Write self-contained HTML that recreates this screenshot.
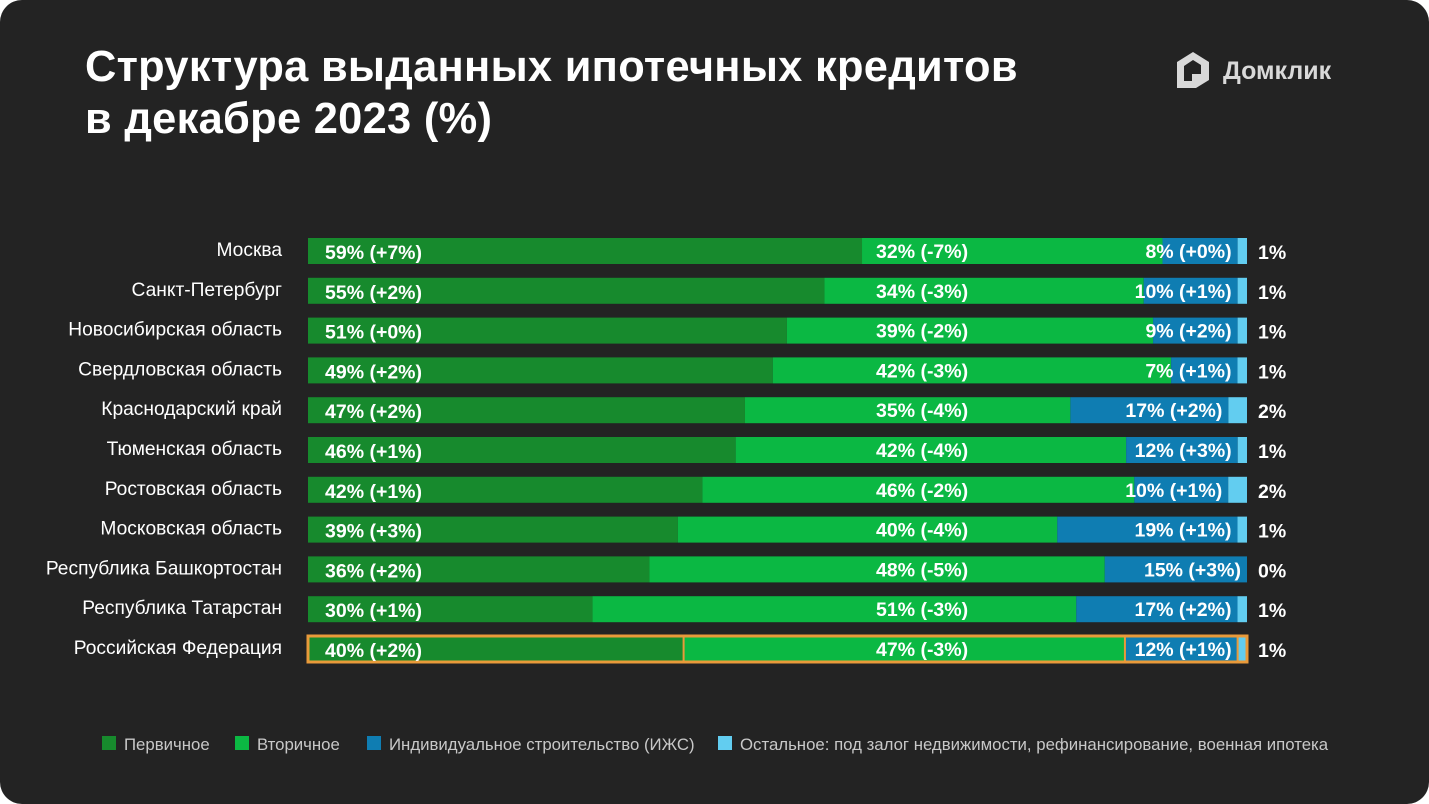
<!DOCTYPE html>
<html><head><meta charset="utf-8">
<style>
html,body{margin:0;padding:0;background:#fff;}
#card{position:absolute;left:0;top:0;width:1429px;height:804px;background:#232323;border-radius:22px;overflow:hidden;font-family:"Liberation Sans","DejaVu Sans",sans-serif;}
#title{position:absolute;left:85px;top:41px;color:#fff;font-size:43.4px;font-weight:bold;line-height:52px;margin:0;letter-spacing:0.3px;}
#logo{position:absolute;left:1174px;top:50px;color:#d9d9d9;font-size:25px;font-weight:bold;}
svg{position:absolute;left:0;top:0;}
</style></head><body>
<div id="card">
<h1 id="title">Структура выданных ипотечных кредитов<br>в декабре 2023 (%)</h1>
<div id="logo">
<svg width="38" height="40" viewBox="0 0 38 40" style="position:relative;vertical-align:middle;"><path d="M19 2 L35 12 L35 30 L22 38 L3 38 L3 12 Z M10 16 L10 31 L18 31 L18 24 L27 24 L27 15 L19 10 Z" fill="#d9d9d9" fill-rule="evenodd"/></svg>
<span style="position:relative;top:2px;left:4px;">Домклик</span></div>
<svg id="chart" width="1429" height="804"></svg>
</div>
<script>
const categories=["Москва","Санкт-Петербург","Новосибирская область","Свердловская область","Краснодарский край","Тюменская область","Ростовская область","Московская область","Республика Башкортостан","Республика Татарстан","Российская Федерация"];
const primary=[59,55,51,49,47,46,42,39,36,30,40];
const secondary=[32,34,39,42,35,42,46,40,48,51,47];
const izhs=[8,10,9,7,17,12,10,19,15,17,12];
const other=[1,1,1,1,2,1,2,1,0,1,1];
const primaryChg=["+7%","+2%","+0%","+2%","+2%","+1%","+1%","+3%","+2%","+1%","+2%"];
const secondaryChg=["-7%","-3%","-2%","-3%","-4%","-4%","-2%","-4%","-5%","-3%","-3%"];
const izhsChg=["+0%","+1%","+2%","+1%","+2%","+3%","+1%","+1%","+3%","+2%","+1%"];
const legendLabels=["Первичное","Вторичное","Индивидуальное строительство (ИЖС)","Остальное: под залог недвижимости, рефинансирование, военная ипотека"];
const colors=["#178a2d","#0bb843","#0f7db2","#62cdf0"];

const svg=document.getElementById('chart');
const NS="http://www.w3.org/2000/svg";
const X0=308,W=939,Y0=251,STEP=39.8,H=26;
function yPos(i){return Y0+i*STEP;}
function mk(tag,attrs){const e=document.createElementNS(NS,tag);for(const k in attrs)e.setAttribute(k,attrs[k]);svg.appendChild(e);return e;}
function txt(x,y,s,opts){const t=mk('text',Object.assign({x:x,y:y,fill:'#fff','font-size':19,'font-family':'"Liberation Sans",sans-serif'},opts||{}));t.textContent=s;return t;}

categories.forEach((c,i)=>{
  const y=yPos(i);
  const vals=[primary[i],secondary[i],izhs[i],other[i]];
  const total=vals.reduce((a,b)=>a+b,0);
  const lab=txt(282,y+5,c,{'text-anchor':'end','font-size':19.2});
  
  
  let x=X0;const starts=[];
  vals.forEach((v,k)=>{
    const w=v/total*W;starts.push(x);
    const r=mk('rect',{x:x,y:y-H/2,width:Math.max(w,0),height:H,fill:colors[k]});
    
    
    x+=w;
  });
  if(i===categories.length-1){
    const b=mk('rect',{x:X0,y:y-H/2,width:W,height:H,fill:'none',stroke:'#e99a3a','stroke-width':3});
    
    
    [starts[1],starts[2],starts[3]].forEach(sx=>{
      const l=mk('line',{x1:sx,x2:sx,y1:y-H/2,y2:y+H/2,stroke:'#e99a3a','stroke-width':2});
      
      
    });
  }
  const t1=txt(325,y+8,primary[i]+'% ('+primaryChg[i]+')',{'font-weight':'bold','font-size':19.5});
  
  
  const t2=txt(876,y+7,secondary[i]+'% ('+secondaryChg[i]+')',{'font-weight':'bold','font-size':19.5});
  
  
  const t3=txt(starts[3]-6,y+7,izhs[i]+'% ('+izhsChg[i]+')',{'font-weight':'bold','font-size':19.5,'text-anchor':'end'});
  
  
  const t4=txt(1258,y+8,other[i]+'%',{'font-weight':'bold','font-size':19.5});
  
  
});

const legX=[102,235,367,718];
legendLabels.forEach((s,k)=>{
  const r=mk('rect',{x:legX[k],y:736,width:14,height:14,fill:colors[k]});
  
  
  const t=txt(legX[k]+22,750,s,{'font-size':16.8,fill:'#c8c8c8'});
  
  
});
</script>
</body></html>
